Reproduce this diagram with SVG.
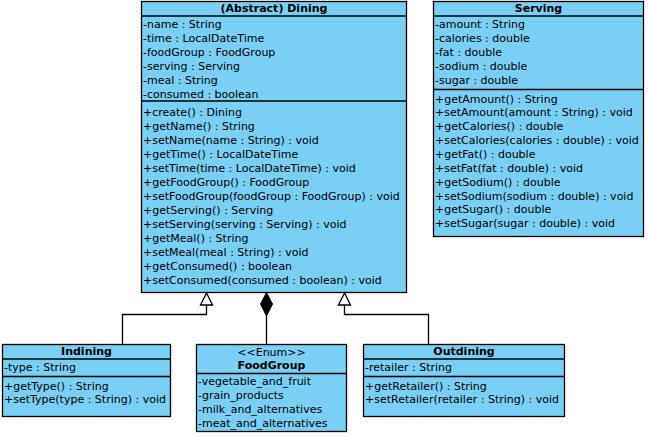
<svg xmlns="http://www.w3.org/2000/svg" width="649" height="437" viewBox="0 0 649 437">
<style>
.box{fill:#7ACFF5;stroke:#000;stroke-width:1.3}
.sep{stroke:#000;stroke-width:1.3}
text{font-family:"DejaVu Sans",sans-serif;font-size:11px;fill:#000}
.t{font-weight:bold;text-anchor:middle}
.c{text-anchor:middle}
.con{fill:none;stroke:#000;stroke-width:1.3}
</style>
<rect width="649" height="437" fill="#fff"/>
<g id="dining">
<rect class="box" x="141.5" y="1.5" width="265" height="291"/>
<line class="sep" x1="141.5" y1="16" x2="406.5" y2="16"/>
<line class="sep" x1="141.5" y1="101" x2="406.5" y2="101"/>
<text class="t" x="274" y="12">(Abstract) Dining</text>
<text x="143" y="28">-name : String</text>
<text x="143" y="42">-time : LocalDateTime</text>
<text x="143" y="56">-foodGroup : FoodGroup</text>
<text x="143" y="70">-serving : Serving</text>
<text x="143" y="84">-meal : String</text>
<text x="143" y="98">-consumed : boolean</text>
<text x="143" y="116">+create() : Dining</text>
<text x="143" y="130">+getName() : String</text>
<text x="143" y="144">+setName(name : String) : void</text>
<text x="143" y="158">+getTime() : LocalDateTime</text>
<text x="143" y="172">+setTime(time : LocalDateTime) : void</text>
<text x="143" y="186">+getFoodGroup() : FoodGroup</text>
<text x="143" y="200">+setFoodGroup(foodGroup : FoodGroup) : void</text>
<text x="143" y="214">+getServing() : Serving</text>
<text x="143" y="228">+setServing(serving : Serving) : void</text>
<text x="143" y="242">+getMeal() : String</text>
<text x="143" y="256">+setMeal(meal : String) : void</text>
<text x="143" y="270">+getConsumed() : boolean</text>
<text x="143" y="284">+setConsumed(consumed : boolean) : void</text>
</g>
<g id="serving">
<rect class="box" x="433.5" y="1.5" width="210" height="235"/>
<line class="sep" x1="433.5" y1="16" x2="643.5" y2="16"/>
<line class="sep" x1="433.5" y1="89.5" x2="643.5" y2="89.5"/>
<text class="t" x="538.5" y="12">Serving</text>
<text x="435" y="28">-amount : String</text>
<text x="435" y="42">-calories : double</text>
<text x="435" y="56">-fat : double</text>
<text x="435" y="70">-sodium : double</text>
<text x="435" y="84">-sugar : double</text>
<text x="435" y="102.5">+getAmount() : String</text>
<text x="435" y="116.4">+setAmount(amount : String) : void</text>
<text x="435" y="130.2">+getCalories() : double</text>
<text x="435" y="144">+setCalories(calories : double) : void</text>
<text x="435" y="157.9">+getFat() : double</text>
<text x="435" y="171.8">+setFat(fat : double) : void</text>
<text x="435" y="185.6">+getSodium() : double</text>
<text x="435" y="199.5">+setSodium(sodium : double) : void</text>
<text x="435" y="213.3">+getSugar() : double</text>
<text x="435" y="227.2">+setSugar(sugar : double) : void</text>
</g>
<g id="indining">
<rect class="box" x="2.5" y="344.5" width="168" height="72"/>
<line class="sep" x1="2.5" y1="359" x2="170.5" y2="359"/>
<line class="sep" x1="2.5" y1="376.5" x2="170.5" y2="376.5"/>
<text class="t" x="86.5" y="355">Indining</text>
<text x="4" y="371">-type : String</text>
<text x="4" y="389.5">+getType() : String</text>
<text x="4" y="403">+setType(type : String) : void</text>
</g>
<g id="foodgroup">
<rect class="box" x="196.5" y="344.5" width="150" height="87"/>
<line class="sep" x1="196.5" y1="373.5" x2="346.5" y2="373.5"/>
<text class="c" x="271.5" y="355.5">&lt;&lt;Enum&gt;&gt;</text>
<text class="t" x="271.5" y="369">FoodGroup</text>
<text x="198" y="384.5">-vegetable_and_fruit</text>
<text x="198" y="398.5">-grain_products</text>
<text x="198" y="412.5">-milk_and_alternatives</text>
<text x="198" y="426.5">-meat_and_alternatives</text>
</g>
<g id="outdining">
<rect class="box" x="363.5" y="344.5" width="201" height="72"/>
<line class="sep" x1="363.5" y1="359" x2="564.5" y2="359"/>
<line class="sep" x1="363.5" y1="376.5" x2="564.5" y2="376.5"/>
<text class="t" x="464" y="355">Outdining</text>
<text x="365" y="371">-retailer : String</text>
<text x="365" y="389.5">+getRetailer() : String</text>
<text x="365" y="403">+setRetailer(retailer : String) : void</text>
</g>
<g id="connectors">
<polyline class="con" points="122.5,344 122.5,314.5 206.5,314.5 206.5,305"/>
<polygon points="206.5,293 200.5,305 212.5,305" fill="#fff" stroke="#000" stroke-width="1.3"/>
<line class="con" x1="266.5" y1="316" x2="266.5" y2="344"/>
<polygon points="266.5,292.5 272.5,304 266.5,316 260.5,304" fill="#000" stroke="#000" stroke-width="1"/>
<polyline class="con" points="428.5,344 428.5,314.5 344.5,314.5 344.5,305"/>
<polygon points="344.5,293 338.5,305 350.5,305" fill="#fff" stroke="#000" stroke-width="1.3"/>
</g>
</svg>
